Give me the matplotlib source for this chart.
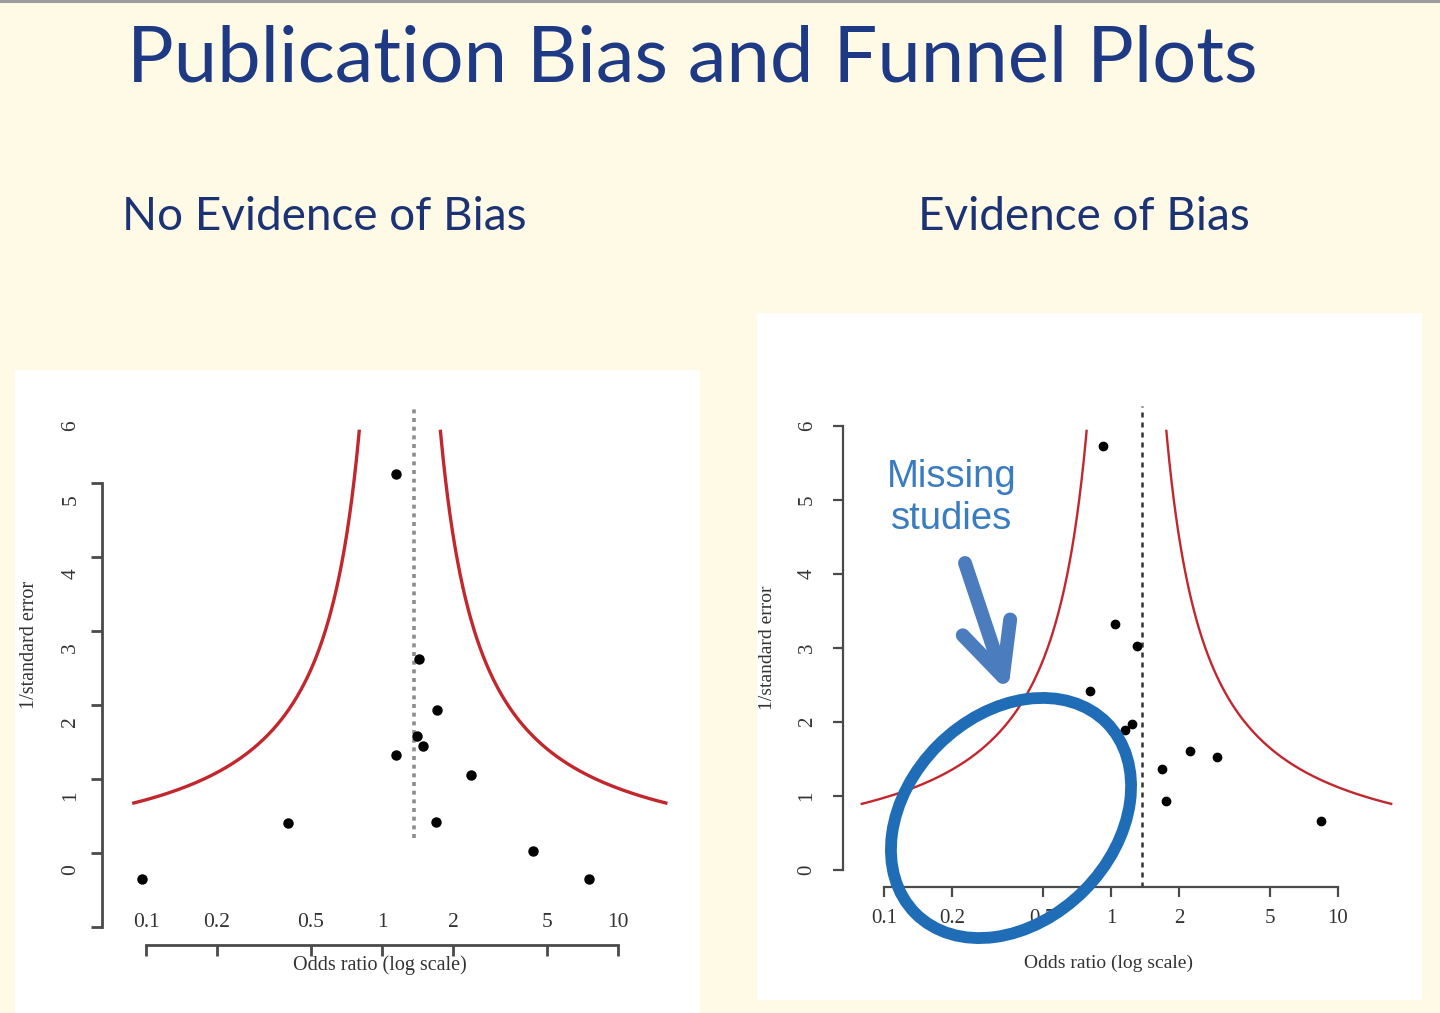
import numpy as np
import matplotlib
matplotlib.use('Agg')
import matplotlib.pyplot as plt
import matplotlib.transforms as mtransforms
from matplotlib.patches import Rectangle, Ellipse, FancyArrowPatch
from matplotlib.lines import Line2D

W, H, DPI = 1440, 1013, 100

# ---- data ----
or_ticks = [0.1, 0.2, 0.5, 1, 2, 5, 10]
or_labels = ['0.1', '0.2', '0.5', '1', '2', '5', '10']
y_ticks = [0, 1, 2, 3, 4, 5, 6]

# no evidence of bias
left_or = [0.096, 0.401, 1.143, 1.146, 1.435, 1.705, 1.411, 1.496, 2.38, 1.689, 4.38, 7.54]
left_inv_se = [-0.12, 0.64, 5.35, 1.55, 2.85, 2.16, 1.81, 1.67, 1.28, 0.645, 0.26, -0.12]
left_pooled = 1.37
left_pooled_span = (0.43, 6.26)
left_funnel_center = 1.19
left_funnel_z = 2.35
left_funnel_span = (0.90, 5.95)

# evidence of bias
right_or = [0.922, 1.04, 1.30, 0.808, 1.15, 1.24, 2.23, 2.93, 1.68, 1.75, 8.42]
right_inv_se = [5.73, 3.33, 3.03, 2.42, 1.89, 1.97, 1.61, 1.53, 1.36, 0.93, 0.66]
right_pooled = 1.37
right_pooled_span = (-0.23, 6.27)
right_funnel_center = 1.17
right_funnel_z = 2.4
right_funnel_span = (0.89, 5.95)

BG = '#FEFAE6'
NAVY = '#1E3A84'
RED = '#C2272D'
AXC = '#4A4A4A'
TXT = '#333333'
SERIF = 'Liberation Serif'


def fx(px):
    return px / W


def fy(py):
    return 1 - py / H


def to_in(px, py):
    return (px / DPI, (H - py) / DPI)


def make_axes(fig, x1_px, dec_px, y0_px, unit_px, xlim, ylim):
    # place axes so that data maps onto the slide's pixel scale
    l = x1_px + dec_px * np.log10(xlim[0])
    r = x1_px + dec_px * np.log10(xlim[1])
    b = y0_px - unit_px * ylim[0]
    t = y0_px - unit_px * ylim[1]
    ax = fig.add_axes([fx(l), fy(b), (r - l) / W, (b - t) / H])
    ax.set_xscale('log')
    ax.set_xlim(xlim)
    ax.set_ylim(ylim)
    ax.patch.set_alpha(0)
    ax.xaxis.set_minor_locator(plt.NullLocator())
    return ax, (l, r, b, t)


def draw_funnel(ax, center, z, span, lw):
    yy = np.linspace(span[0], span[1], 300)
    ax.plot(center * np.exp(-z / yy), yy, color=RED, lw=lw, solid_capstyle='butt')
    ax.plot(center * np.exp(z / yy), yy, color=RED, lw=lw, solid_capstyle='butt')


fig = plt.figure(figsize=(W / DPI, H / DPI), dpi=DPI)
fig.patch.set_facecolor(BG)

# slide decoration and white picture panels
fig.add_artist(Line2D([0, 1], [fy(1.2), fy(1.2)], transform=fig.transFigure,
                      color='#9C9C9C', lw=2.2))
fig.add_artist(Rectangle((fx(15), fy(1013)), fx(700) - fx(15), fy(370) - fy(1013),
                         transform=fig.transFigure, facecolor='white',
                         edgecolor='none', zorder=-1))
fig.add_artist(Rectangle((fx(757), fy(1000)), fx(1422) - fx(757), fy(313) - fy(1000),
                         transform=fig.transFigure, facecolor='white',
                         edgecolor='none', zorder=-1))

fig.text(fx(692), fy(60), 'Publication Bias and Funnel Plots', family='Lato',
         fontsize=56, color=NAVY, ha='center', va='center')
fig.text(fx(122), fy(217), 'No Evidence of Bias', family='Lato', fontsize=33,
         color='#1B3274', ha='left', va='center')
fig.text(fx(918), fy(217), 'Evidence of Bias', family='Lato', fontsize=33,
         color='#1B3274', ha='left', va='center')

# ---------------- left funnel plot ----------------
axL, (l, r, b, t) = make_axes(fig, 382, 236, 870, 74, (0.07, 20), (-0.8, 6.5))
for s in axL.spines.values():
    s.set_visible(False)
axL.set_xticks(or_ticks, labels=or_labels)
axL.set_yticks(y_ticks, labels=[str(v) for v in y_ticks])
axL.tick_params(axis='x', length=0, pad=-12, labelsize=15.5, labelcolor=TXT)
axL.tick_params(axis='y', length=0, pad=21, labelsize=15.5, labelcolor=TXT)
for lab in axL.get_xticklabels() + axL.get_yticklabels():
    lab.set_family(SERIF)
for lab in axL.get_yticklabels():
    lab.set_rotation(90)
    lab.set_va('center')

# the axis lines of this picture sit off its labels
shift = 0.77
secy = axL.secondary_yaxis((102 - l) / (r - l),
                           functions=(lambda v: v + shift, lambda v: v - shift))
secy.set_ticks(y_ticks, labels=[''] * len(y_ticks))
secy.tick_params(length=8, width=2, color=AXC)
secy.spines['left'].set_bounds(y_ticks[0], y_ticks[-1])
secy.spines['left'].set_linewidth(2)
secy.spines['left'].set_color(AXC)

secx = axL.secondary_xaxis((b - 945) / (b - t))
secx.set_ticks(or_ticks, labels=[''] * len(or_ticks))
secx.xaxis.set_minor_locator(plt.NullLocator())
secx.tick_params(length=8, width=2, color=AXC)
secx.spines['bottom'].set_bounds(or_ticks[0], or_ticks[-1])
secx.spines['bottom'].set_linewidth(2)
secx.spines['bottom'].set_color(AXC)

draw_funnel(axL, left_funnel_center, left_funnel_z, left_funnel_span, 2.4)
axL.vlines(left_pooled, *left_pooled_span, color='#8C8C8C', lw=2.6,
           linestyles=(0, (1.1, 1.3)))
axL.plot(left_or, left_inv_se, 'o', color='black', ms=6.5, clip_on=False)

fig.text(fx(30), fy(645), '1/standard error', family=SERIF, fontsize=14.5,
         color=TXT, rotation=90, ha='center', va='center')
fig.text(fx(380), fy(965), 'Odds ratio (log scale)', family=SERIF, fontsize=14.5,
         color=TXT, ha='center', va='center')

# ---------------- right funnel plot ----------------
axR, (l, r, b, t) = make_axes(fig, 1111, 227, 870, 74, (0.066, 20), (-0.23, 6.5))
axR.spines[['top', 'right']].set_visible(False)
axR.spines['left'].set_bounds(y_ticks[0], y_ticks[-1])
axR.spines['bottom'].set_bounds(or_ticks[0], or_ticks[-1])
for k in ('left', 'bottom'):
    axR.spines[k].set_linewidth(1.6)
    axR.spines[k].set_color(AXC)
axR.set_xticks(or_ticks, labels=or_labels)
axR.set_yticks(y_ticks, labels=[str(v) for v in y_ticks])
axR.tick_params(length=7, width=1.6, color=AXC, labelsize=15, labelcolor=TXT)
axR.tick_params(axis='x', pad=9)
axR.tick_params(axis='y', pad=12)
for lab in axR.get_xticklabels() + axR.get_yticklabels():
    lab.set_family(SERIF)
for lab in axR.get_yticklabels():
    lab.set_rotation(90)
    lab.set_va('center')

draw_funnel(axR, right_funnel_center, right_funnel_z, right_funnel_span, 1.7)
axR.vlines(right_pooled, *right_pooled_span, color='#333333', lw=1.8,
           linestyles=(0, (2, 2)))
axR.plot(right_or, right_inv_se, 'o', color='black', ms=6, clip_on=False)

fig.text(fx(768), fy(648), '1/standard error', family=SERIF, fontsize=14,
         color=TXT, rotation=90, ha='center', va='center')
fig.text(fx(1108), fy(963), 'Odds ratio (log scale)', family=SERIF, fontsize=14,
         color=TXT, ha='center', va='center')

# missing studies call-out
fig.text(fx(952), fy(498), 'Missing\nstudies', family='Liberation Sans',
         fontsize=27.5, color='#3A7CC0', ha='center', va='center', linespacing=1.2)
fig.add_artist(FancyArrowPatch(to_in(965, 563), to_in(1008, 692),
                               transform=fig.dpi_scale_trans,
                               arrowstyle='->,head_length=0.75,head_width=0.36',
                               mutation_scale=50, lw=10, color='#4B7CBE',
                               capstyle='round', joinstyle='round',
                               shrinkA=0, shrinkB=0, zorder=5))
fig.add_artist(Ellipse(to_in(1011, 818), 270 / DPI, 206 / DPI, angle=45,
                       transform=fig.dpi_scale_trans, fill=False,
                       edgecolor='#1F6DB6', lw=8.5, zorder=6))

fig.savefig('out.png', dpi=DPI, facecolor=BG)
